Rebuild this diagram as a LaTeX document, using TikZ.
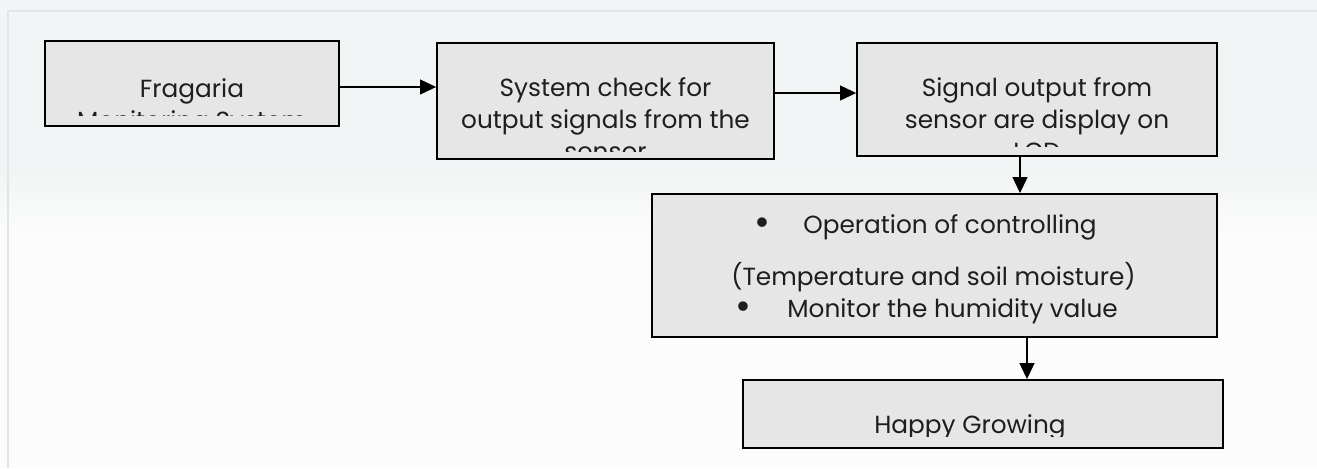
\documentclass[tikz,border=0pt]{standalone}
\usepackage{fontspec}
\setmainfont{Poppins}
\usetikzlibrary{arrows.meta,positioning,calc}
\definecolor{BoxGray}{HTML}{E6E6E6}
\definecolor{InkGray}{HTML}{1E1E1E}
\definecolor{PageTop}{HTML}{F2F5F5}
\definecolor{PageLow}{HTML}{FCFCFC}
\definecolor{FrameGray}{HTML}{E2E5E5}

\begin{document}
\begin{tikzpicture}[x=0.02cm,y=-0.02cm,>={Triangle[length=0.32cm,width=0.3cm]}]
  \tikzset{
    blk/.style={draw=black,fill=BoxGray,line width=1.1pt,inner sep=0pt},
    txt/.style={anchor=base,text=InkGray,font=\fontsize{14.1}{17}\selectfont,inner sep=0pt},
    dot/.style={anchor=center,text=InkGray,font=\fontsize{22}{22}\selectfont,inner sep=0pt},
    flow/.style={->,line width=.6pt}
  }
  \useasboundingbox (0,0) rectangle (1317,468);
  % page background
  \fill[PageLow] (0,0) rectangle (1317,468);
  \fill[PageTop] (0,0) rectangle (1317,170);
  \shade[top color=PageTop,bottom color=PageLow] (0,170) rectangle (1317,240);
  \draw[FrameGray,line width=.8pt] (8,468) |- (1317,11);

  \node[blk,minimum width=5.88cm,minimum height=1.70cm] (frag) at (192,83.5) {};
  \node[blk,minimum width=6.74cm,minimum height=2.32cm] (chk) at (605.5,101) {};
  \node[blk,minimum width=7.20cm,minimum height=2.26cm] (sig) at (1037,99.5) {};
  \node[blk,minimum width=11.30cm,minimum height=2.86cm] (ctl) at (934.5,265.5) {};
  \node[blk,minimum width=9.60cm,minimum height=1.36cm] (hap) at (983,414) {};

  % box texts, cut off at the lower margin
  \begin{scope}
    \clip (45,41) rectangle (339,115);
    \node[txt] (frag1) at (192,97) {Fragaria};
    \node[txt] (frag2) at (192,129) {Monitoring System};
  \end{scope}
  \begin{scope}
    \clip (437,43) rectangle (774,151);
    \node[txt] (chk1) at (605.5,96) {System check for};
    \node[txt] (chk2) at (605.5,128) {output signals from the};
    \node[txt] (chk3) at (605.5,160) {sensor};
  \end{scope}
  \begin{scope}
    \clip (857,43) rectangle (1217,146);
    \node[txt] (sig1) at (1037,96) {Signal output from};
    \node[txt] (sig2) at (1037,128) {sensor are display on};
    \node[txt] (sig3) at (1037,160) {LCD};
  \end{scope}
  \node[dot] (dot1) at (762,227) {\textbullet};
  \node[txt,anchor=base west] (ctl1) at (803,233) {Operation of controlling};
  \node[txt] (ctl2) at (933.5,285) {(Temperature and soil moisture)};
  \node[dot] (dot2) at (743,311) {\textbullet};
  \node[txt,anchor=base west] (ctl3) at (787,317) {Monitor the humidity value};
  \begin{scope}
    \clip (743,380) rectangle (1223,436);
    \node[txt] (hap1) at (970,433) {Happy Growing};
  \end{scope}

  \draw[flow] ([yshift=-0.07cm]frag.east) -- ([yshift=-0.07cm]frag.east -| chk.west);
  \draw[flow] ([yshift=0.16cm]chk.east) -- ([yshift=0.16cm]chk.east -| sig.west);
  \draw[flow] ([xshift=-0.34cm]sig.south) -- ([xshift=-0.34cm]sig.south |- ctl.north);
  \draw[flow] ([xshift=1.85cm]ctl.south) -- ([xshift=1.85cm]ctl.south |- hap.north);
\end{tikzpicture}
\end{document}
